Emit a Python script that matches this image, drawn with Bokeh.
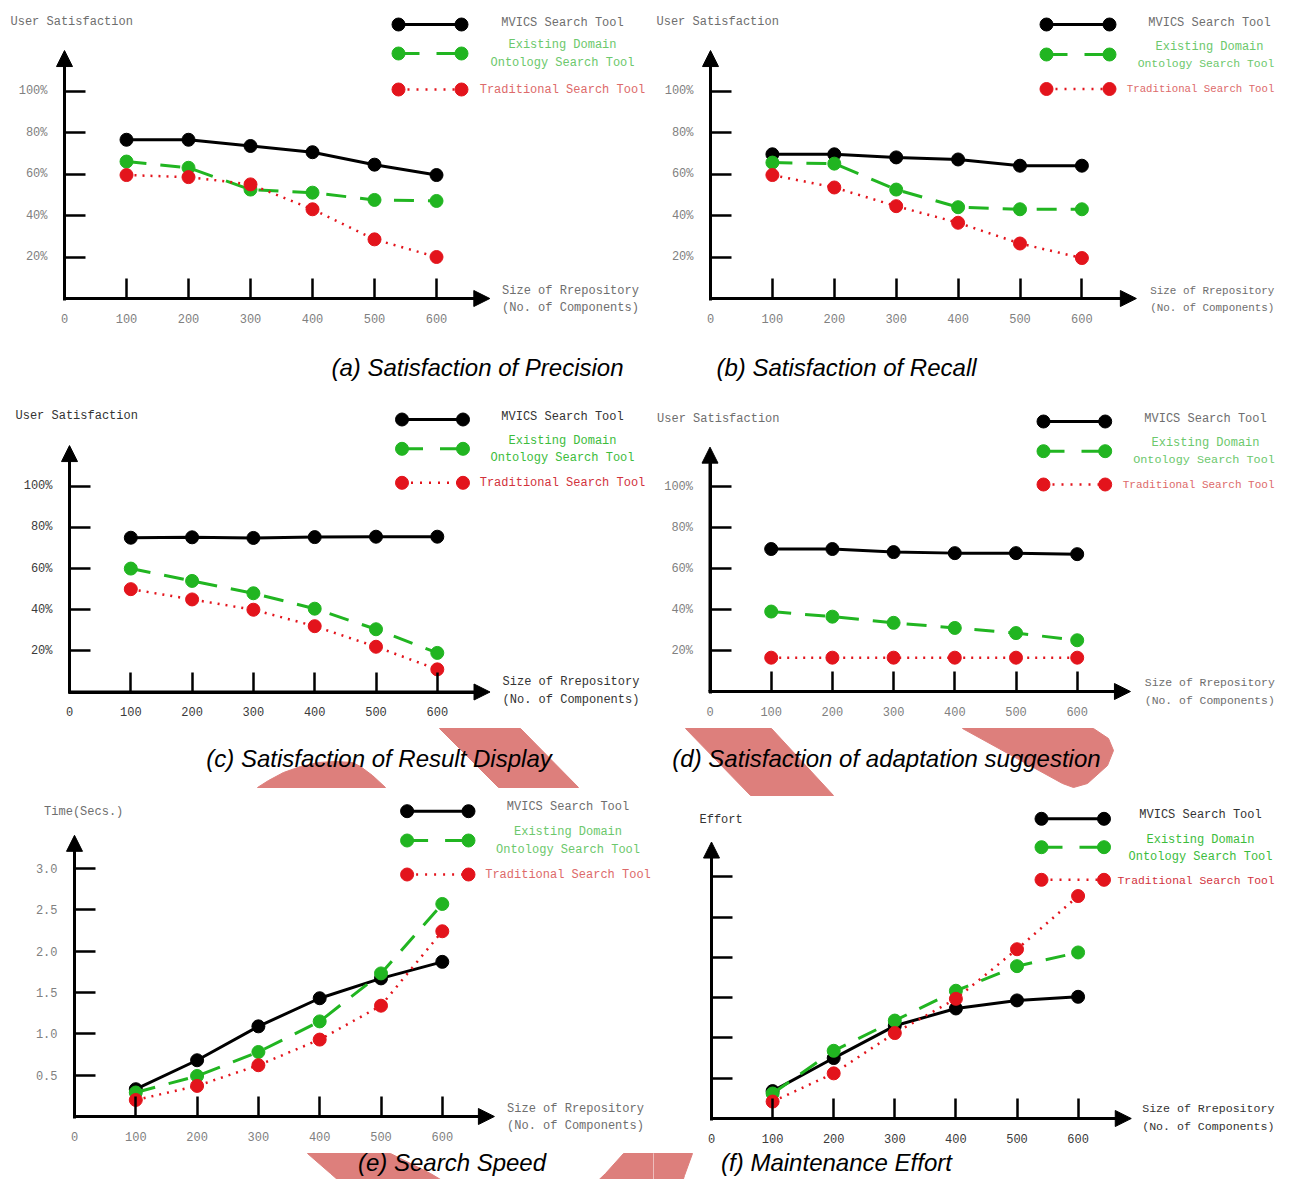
from bokeh.plotting import figure
from bokeh.layouts import gridplot
from bokeh.models import FixedTicker, Arrow, NormalHead, Label, Range1d
from bokeh.embed import file_html
from bokeh.resources import INLINE

# ------------------------------------------------------------------ data
repo_sizes = [100, 200, 300, 400, 500, 600]
x_tick_values = [0, 100, 200, 300, 400, 500, 600]

pct_ticks = [20, 40, 60, 80, 100]
pct_tick_labels = ["20%", "40%", "60%", "80%", "100%"]
time_ticks = [0.5, 1.0, 1.5, 2.0, 2.5, 3.0]
time_tick_labels = ["0.5", "1.0", "1.5", "2.0", "2.5", "3.0"]
effort_ticks = [1, 2, 3, 4, 5, 6]
effort_tick_labels = ["", "", "", "", "", ""]

series_mvics = "MVICS Search Tool"
series_existing = ["Existing Domain", "Ontology Search Tool"]
series_traditional = "Traditional Search Tool"
x_title = ["Size of Rrepository", "(No. of Components)"]

precision_mvics = [76.5, 76.5, 73.5, 70.5, 64.5, 59.5]
precision_existing = [66, 63, 52.5, 51, 47.5, 47]
precision_traditional = [59.5, 58.5, 55, 43, 28.5, 20]

recall_mvics = [69.5, 69.5, 68, 67, 64, 64]
recall_existing = [65.5, 65, 52.5, 44, 43, 43]
recall_traditional = [59.5, 53.5, 44.5, 36.5, 26.5, 19.5]

display_mvics = [75, 75.2, 74.9, 75.3, 75.5, 75.5]
display_existing = [60, 54, 48, 40.5, 30.5, 19]
display_traditional = [50, 45, 40, 32, 22, 11]

adaptation_mvics = [69.5, 69.5, 68, 67.5, 67.5, 67]
adaptation_existing = [39, 36.5, 33.5, 31, 28.5, 25]
adaptation_traditional = [16.5, 16.5, 16.5, 16.5, 16.5, 16.5]

speed_mvics = [0.33, 0.68, 1.09, 1.43, 1.67, 1.87]
speed_existing = [0.29, 0.49, 0.78, 1.15, 1.73, 2.57]
speed_traditional = [0.2, 0.37, 0.62, 0.93, 1.34, 2.24]

effort_mvics = [0.68, 1.5, 2.3, 2.73, 2.93, 3.02]
effort_existing = [0.62, 1.68, 2.43, 3.17, 3.78, 4.12]
effort_traditional = [0.42, 1.12, 2.12, 2.97, 4.2, 5.52]

# ------------------------------------------------------------------ styles
GREEN = "#21b521"
RED = "#e3141c"
PINK = "#dd7f7c"
MONO = "Liberation Mono"
FS = 12  # px, small text

# decorative pink bands of the page (page pixel units)
pink_shapes = [
    [(257, 787), (268, 780), (283, 772), (300, 766), (318, 762), (335, 761), (352, 762), (360, 766), (372, 775), (385, 787)],
    [(439, 728), (520, 728), (578, 787), (498, 787)],
    [(685, 728), (771, 728), (833, 795), (750, 795)],
    [(962, 728), (1093, 728), (1108, 738), (1113, 750), (1107, 765), (1087, 783), (1073, 787), (1062, 783)],
    [(307, 1153), (390, 1153), (430, 1173), (467, 1195), (355, 1195), (330, 1173)],
    [(623, 1153), (692, 1153), (684, 1175), (678, 1195), (582, 1195), (605, 1173)],
]

PAGE_W, PAGE_H = 1276, 1179
cols = [(0, 653), (653, PAGE_W)]
rows = [(0, 392), (392, 797), (797, PAGE_H)]

panels = [
    dict(cell=(0, 0), geom=(64, 0.62, 298, 2.075), xtip=686, ytip=119.5,
         yticks=pct_ticks, ylabels=pct_tick_labels,
         data=(precision_mvics, precision_existing, precision_traditional),
         title=("User Satisfaction", 10, 21.5), leg_x=(398, 461), leg_y=(24, 53, 89),
         leg_cx=562, leg_ty=(22, 44, 62, 89), xlab=(570, 290.5, 307.5),
         caption=("(a) Satisfaction of Precision", 477, 366.5), crisp=False),
    dict(cell=(0, 1), geom=(710, 0.619, 298, 2.075), xtip=688, ytip=119.5,
         yticks=pct_ticks, ylabels=pct_tick_labels,
         data=(recall_mvics, recall_existing, recall_traditional),
         title=("User Satisfaction", 656, 21.5), leg_x=(1046, 1109), leg_y=(24, 54, 88.5),
         leg_cx=1209, leg_ty=(22, 46, 63, 88.5), xlab=(1218, 290, 307.5),
         caption=("(b) Satisfaction of Recall", 846, 366.5), crisp=False),
    dict(cell=(1, 0), geom=(69, 0.613, 691.5, 2.057), xtip=686, ytip=119.8,
         yticks=pct_ticks, ylabels=pct_tick_labels,
         data=(display_mvics, display_existing, display_traditional),
         title=("User Satisfaction", 15, 415.5), leg_x=(401.5, 462.5), leg_y=(419, 448.3, 482.3),
         leg_cx=562, leg_ty=(416, 440, 457.3, 482.5), xlab=(570.5, 681.7, 699),
         caption=("(c) Satisfaction of Result Display", 378.5, 758), crisp=True),
    dict(cell=(1, 1), geom=(709.5, 0.612, 691, 2.05), xtip=687, ytip=119.2,
         yticks=pct_ticks, ylabels=pct_tick_labels,
         data=(adaptation_mvics, adaptation_existing, adaptation_traditional),
         title=("User Satisfaction", 656.6, 418.3), leg_x=(1043, 1104.7), leg_y=(421, 450.7, 484),
         leg_cx=1205, leg_ty=(418.3, 442.7, 459, 484), xlab=(1213, 682.3, 700),
         caption=("(d) Satisfaction of adaptation suggestion", 886, 758.3), crisp=False),
    dict(cell=(2, 0), geom=(74, 0.613, 1116, 82.7), xtip=685, ytip=3.40,
         yticks=time_ticks, ylabels=time_tick_labels,
         data=(speed_mvics, speed_existing, speed_traditional),
         title=("Time(Secs.)", 43.6, 811.7), leg_x=(406.6, 468), leg_y=(810.7, 840, 874),
         leg_cx=567.5, leg_ty=(806.7, 831.7, 849, 874), xlab=(575, 1108, 1125),
         caption=("(e) Search Speed", 451.5, 1183), crisp=False),
    dict(cell=(2, 1), geom=(711, 0.611, 1118, 40.3), xtip=687, ytip=6.86,
         yticks=effort_ticks, ylabels=effort_tick_labels,
         data=(effort_mvics, effort_existing, effort_traditional),
         title=("Effort", 699, 819.3), leg_x=(1041, 1103.5), leg_y=(818.3, 846.7, 879.3),
         leg_cx=1200, leg_ty=(814, 839, 856, 880), xlab=(1210, 1108, 1125.7),
         caption=("(f) Maintenance Effort", 836, 1183), crisp=True),
]


def fit_text(cx, text, right_limit):
    """Keep a centred monospace text inside the page: keep its left edge,
    shrink it a little if needed, then shift what is still too long."""
    w = len(text) * 0.6 * FS
    left = cx - w / 2
    if left + w <= right_limit:
        return cx, FS
    fs = max(10.5, (right_limit - left) / (len(text) * 0.6))
    w = len(text) * 0.6 * fs
    return min(left + w / 2, right_limit - w / 2), fs


def make_panel(spec):
    r, c = spec["cell"]
    cx0, cx1 = cols[c]
    cy0, cy1 = rows[r]
    X0, XS, Y0, YS = spec["geom"]

    def dx(px):
        return (px - X0) / XS

    def dy(py):
        return (Y0 - py) / YS

    crisp = spec["crisp"]
    txt = "#333333" if crisp else "#6e6e6e"
    tick_txt = "#3a3a3a" if crisp else "#808080"
    green_txt = "#3cbc3c" if crisp else "#6cc86c"
    red_txt = "#d2323c" if crisp else "#dd6a6a"
    right_limit = cx1 - 2

    p = figure(width=int(cx1 - cx0), height=int(cy1 - cy0),
               x_range=Range1d(dx(cx0), dx(cx1)), y_range=Range1d(dy(cy1), dy(cy0)),
               output_backend="svg", toolbar_location=None, min_border=0,
               outline_line_color=None, background_fill_color="white",
               border_fill_color="white")
    p.grid.visible = False

    for poly in pink_shapes:
        p.patch([dx(a) for a, b in poly], [dy(b) for a, b in poly],
                fill_color=PINK, line_color=PINK, line_width=1, level="underlay")

    xa = p.xaxis[0]
    ya = p.yaxis[0]
    xa.fixed_location = 0
    ya.fixed_location = 0
    xa.bounds = (dx(X0 - 1.5), spec["xtip"] - 8 / XS)
    ya.bounds = (dy(Y0 + 1.5), spec["ytip"] - 8 / YS)
    xa.ticker = FixedTicker(ticks=x_tick_values)
    ya.ticker = FixedTicker(ticks=spec["yticks"])
    ya.major_label_overrides = dict(zip(spec["yticks"], spec["ylabels"]))
    for ax in (xa, ya):
        ax.axis_line_width = 3
        ax.axis_line_color = "black"
        ax.major_tick_out = 0
        ax.major_tick_line_width = 2.5
        ax.major_tick_line_color = "black"
        ax.minor_tick_line_color = None
        ax.major_label_text_font = MONO
        ax.major_label_text_font_size = f"{FS}px"
        ax.major_label_text_color = tick_txt
    xa.major_tick_in = 20
    ya.major_tick_in = 21
    xa.major_label_standoff = 15
    ya.major_label_standoff = 17

    head = dict(size=16, fill_color="black", line_color="black", line_width=1)
    p.add_layout(Arrow(end=NormalHead(**head), x_start=0, y_start=0, x_end=0,
                       y_end=spec["ytip"], line_width=3, line_color="black"))
    p.add_layout(Arrow(end=NormalHead(**head), x_start=0, y_start=0, x_end=spec["xtip"],
                       y_end=0, line_width=3, line_color="black"))

    s_m, s_e, s_t = spec["data"]
    p.line(repo_sizes, s_m, line_color="black", line_width=3)
    p.scatter(repo_sizes, s_m, size=13, fill_color="black", line_color="black")
    p.line(repo_sizes, s_e, line_color=GREEN, line_width=3, line_dash="20 14")
    p.scatter(repo_sizes, s_e, size=13, fill_color=GREEN, line_color=GREEN)
    p.line(repo_sizes, s_t, line_color=RED, line_width=2.5, line_dash="2 6")
    p.scatter(repo_sizes, s_t, size=13, fill_color=RED, line_color=RED)

    # legend
    lx0, lx1 = spec["leg_x"]
    ly_m, ly_e, ly_t = spec["leg_y"]
    lxs = [dx(lx0), dx(lx1)]
    for ly, col, dash, lw in ((ly_m, "black", "solid", 3), (ly_e, GREEN, "21 17", 3),
                              (ly_t, RED, "2 7", 2.5)):
        p.line(lxs, [dy(ly), dy(ly)], line_color=col, line_width=lw, line_dash=dash)
        p.scatter(lxs, [dy(ly), dy(ly)], size=13, fill_color=col, line_color=col)

    cx = spec["leg_cx"]
    t_m, t_e1, t_e2, t_t = spec["leg_ty"]
    for text, ty, col in ((series_mvics, t_m, txt), (series_existing[0], t_e1, green_txt),
                          (series_existing[1], t_e2, green_txt),
                          (series_traditional, t_t, red_txt)):
        tcx, fs = fit_text(cx, text, right_limit)
        p.add_layout(Label(x=dx(tcx), y=dy(ty), text=text,
                           text_font=MONO, text_font_size=f"{fs:.1f}px", text_color=col,
                           text_align="center", text_baseline="middle"))

    title, tx, ty = spec["title"]
    p.add_layout(Label(x=dx(tx), y=dy(ty), text=title, text_font=MONO,
                       text_font_size=f"{FS}px", text_color=txt, text_align="left",
                       text_baseline="middle"))

    xl_cx, xl_y1, xl_y2 = spec["xlab"]
    for text, yy in ((x_title[0], xl_y1), (x_title[1], xl_y2)):
        tcx, fs = fit_text(xl_cx, text, right_limit)
        p.add_layout(Label(x=dx(tcx), y=dy(yy), text=text,
                           text_font=MONO, text_font_size=f"{fs:.1f}px", text_color=txt,
                           text_align="center", text_baseline="middle"))

    cap, capx, capy = spec["caption"]
    capy = min(capy, cy1 - 17)
    p.add_layout(Label(x=dx(capx), y=dy(capy), text=cap, text_font="Liberation Sans",
                       text_font_style="italic", text_font_size="24px", text_color="black",
                       text_align="center", text_baseline="middle"))
    return p


figs = [make_panel(s) for s in panels]
grid = gridplot([[figs[0], figs[1]], [figs[2], figs[3]], [figs[4], figs[5]]],
                toolbar_location=None)

open("out.html", "w").write(file_html(grid, INLINE))
